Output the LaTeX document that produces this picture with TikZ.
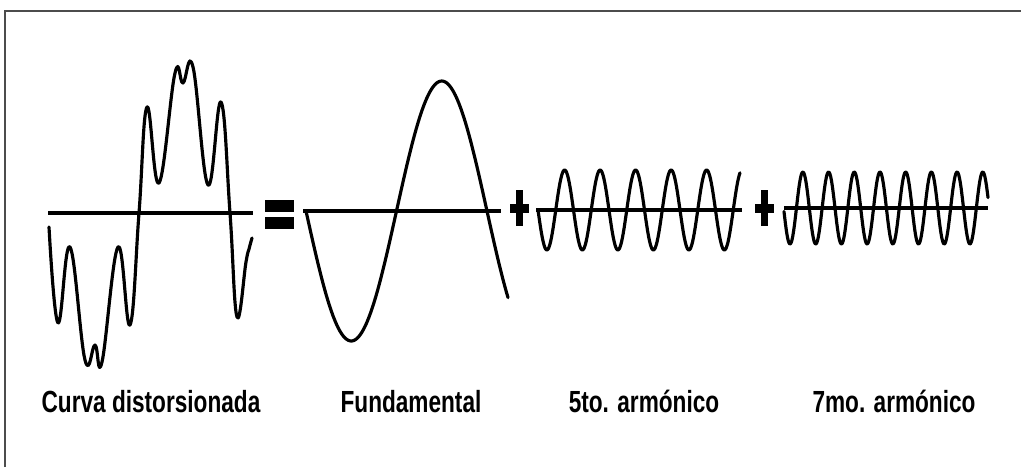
\documentclass[tikz,border=0pt]{standalone}
\usepackage{fontspec}
\newfontfamily\labelfont[FakeStretch=0.74]{Liberation Sans}
\usetikzlibrary{positioning}

\begin{document}
\begin{tikzpicture}[
    x=0.02cm, y=-0.02cm,
    wave/.style={draw=black, line width=1.8pt, line join=round, line cap=round},
    axis/.style={draw=black, line width=1.8pt},
    frame/.style={draw=black!70, line width=1pt},
    sign/.style={fill=black},
    caption/.style={anchor=base, inner sep=0pt, font=\labelfont\bfseries\fontsize{17.4}{20}\selectfont}
]
    \useasboundingbox[fill=white] (0,0) rectangle (1021,467);
    \draw[frame] (5,467) -- (5,11) -- (1021,11);

    % Distorted curve
    \draw[axis] (48,213) -- (253,213);
    \draw[wave] plot[smooth, tension=0.7] coordinates {(49,227) (58,323) (70,247) (85,360) (95,345) (102,362) (118,247) (130,325) (139,213) (147,107) (159,183) (175,73) (183,83) (193,67) (208,185) (221,102) (230,213) (237,317) (246,262) (249,249) (252,238)};

    % Equals sign
    \fill[sign] (265,200) rectangle (294,212);
    \fill[sign] (265,217) rectangle (294,229);

    % Fundamental
    \draw[axis] (303,211) -- (501,211);
    \draw[wave] plot[domain=306:508, samples=120] (\x, {211+130*sin((\x-306)/90.5*180)});

    % Plus signs
    \foreach \cx in {519.5, 764} {
        \fill[sign] (\cx-3.5,190) rectangle (\cx+3.5,226);
        \fill[sign] (\cx-9.5,204) rectangle (\cx+9.5,213);
    }

    % Harmonics
    \draw[axis] (536,210) -- (742,210);
    \draw[wave] plot[domain=538:740, samples=240] (\x, {210+40*sin((\x-538)/35.5*360)});
    \draw[axis] (784,208) -- (988,208);
    \draw[wave] plot[domain=784:988, samples=280] (\x, {208+36*sin((\x-783.6)/25.7*360)});

    % Labels
    \node[caption] (dist) at (151,412) {Curva distorsionada};
    \node[caption] (fund) at (411,412) {Fundamental};
    \node[caption] (fifth) at (644,412) {5to. armónico};
    \node[caption] (seventh) at (894,412) {7mo. armónico};
\end{tikzpicture}
\end{document}
